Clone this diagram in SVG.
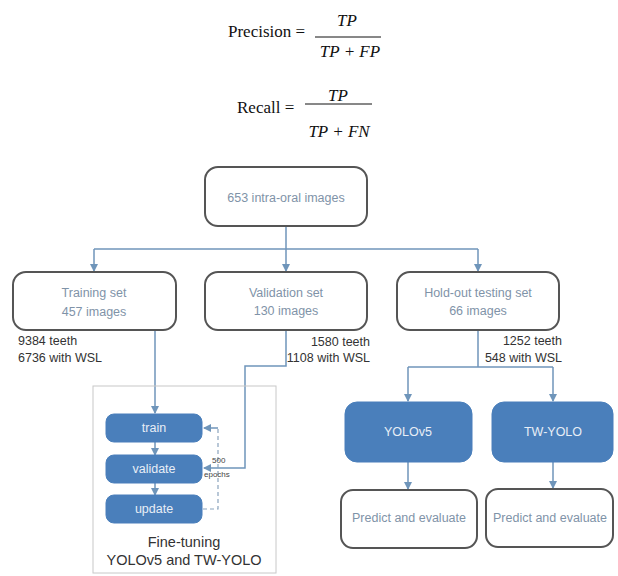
<svg xmlns="http://www.w3.org/2000/svg" width="618" height="576" viewBox="0 0 618 576">
<style>
.math{font-family:"Liberation Serif","Times New Roman",serif;font-size:17px;fill:#111}
.mi{font-style:italic}
.box{fill:#fff;stroke:#555;stroke-width:2}
.blue{fill:#4a7fbb;stroke:#4a7fbb;stroke-width:1}
.lbl{font-family:"Liberation Sans",Arial,sans-serif;font-size:12.5px;fill:#7f93a8;text-anchor:middle}
.wlbl{font-family:"Liberation Sans",Arial,sans-serif;font-size:12.5px;fill:#e8eef6;text-anchor:middle}
.note{font-family:"Liberation Sans",Arial,sans-serif;font-size:12.5px;fill:#333}
.big{font-family:"Liberation Sans",Arial,sans-serif;font-size:14.5px;fill:#333;text-anchor:middle}
.small{font-family:"Liberation Sans",Arial,sans-serif;font-size:8px;fill:#444}
.con{fill:none;stroke:#6f95ba;stroke-width:1.5}
.dash{fill:none;stroke:#8aa3bd;stroke-width:1.2;stroke-dasharray:4 3}
</style>
<defs>
<marker id="ah" markerWidth="8" markerHeight="8" refX="7" refY="4" orient="auto" markerUnits="userSpaceOnUse">
<path d="M0,0 L8,4 L0,8 z" fill="#6f95ba"/>
</marker>
</defs>
<rect width="618" height="576" fill="#fff"/>

<g id="formulas">
<text class="math" x="228" y="37">Precision =</text>
<text class="math mi" x="347" y="26" text-anchor="middle">TP</text>
<line x1="315" y1="37" x2="381" y2="37" stroke="#111" stroke-width="1"/>
<text class="math mi" x="350" y="57" text-anchor="middle">TP + FP</text>
<text class="math" x="237" y="113">Recall =</text>
<text class="math mi" x="338" y="101" text-anchor="middle">TP</text>
<line x1="305" y1="104" x2="372" y2="104" stroke="#111" stroke-width="1"/>
<text class="math mi" x="339" y="137" text-anchor="middle">TP + FN</text>
</g>

<g id="connectors">
<path class="con" d="M286,226 V249"/>
<path class="con" d="M94,249 H478"/>
<path class="con" d="M94,249 V271" marker-end="url(#ah)"/>
<path class="con" d="M286,249 V271" marker-end="url(#ah)"/>
<path class="con" d="M478,249 V271" marker-end="url(#ah)"/>
<path class="con" d="M155,330 V413" marker-end="url(#ah)"/>
<path class="con" d="M155,442 V455" marker-end="url(#ah)"/>
<path class="con" d="M155,483 V495" marker-end="url(#ah)"/>
<path class="con" d="M286,330 V366 H245 V468 H204" marker-end="url(#ah)"/>
<path class="dash" d="M203,509 H218 V428"/>
<path class="con" d="M218,428 H204" marker-end="url(#ah)"/>
<path class="con" d="M478,330 V367"/>
<path class="con" d="M408,367 H553"/>
<path class="con" d="M408,367 V401" marker-end="url(#ah)"/>
<path class="con" d="M553,367 V401" marker-end="url(#ah)"/>
<path class="con" d="M408,462 V489" marker-end="url(#ah)"/>
<path class="con" d="M553,462 V488" marker-end="url(#ah)"/>
</g>

<g id="fine-tuning">
<rect x="93" y="386" width="183" height="187" fill="none" stroke="#c8c8c8" stroke-width="1"/>
<text class="big" x="184" y="547">Fine-tuning</text>
<text class="big" x="184" y="565">YOLOv5 and TW-YOLO</text>
</g>

<g id="n-all">
<rect class="box" x="205" y="167" width="162" height="59" rx="13"/>
<text class="lbl" x="286" y="202">653 intra-oral images</text>
</g>
<g id="n-train-set">
<rect class="box" x="13" y="272" width="163" height="58" rx="13"/>
<text class="lbl" x="94" y="297">Training set</text>
<text class="lbl" x="94" y="316">457 images</text>
</g>
<g id="n-val-set">
<rect class="box" x="205" y="272" width="162" height="58" rx="13"/>
<text class="lbl" x="286" y="297">Validation set</text>
<text class="lbl" x="286" y="315">130 images</text>
</g>
<g id="n-test-set">
<rect class="box" x="397" y="272" width="162" height="58" rx="13"/>
<text class="lbl" x="478" y="297">Hold-out testing set</text>
<text class="lbl" x="478" y="315">66 images</text>
</g>

<g id="notes">
<text class="note" x="18" y="345">9384 teeth</text>
<text class="note" x="18" y="362">6736 with WSL</text>
<text class="note" x="370" y="346" text-anchor="end">1580 teeth</text>
<text class="note" x="370" y="362" text-anchor="end">1108 with WSL</text>
<text class="note" x="562" y="345" text-anchor="end">1252 teeth</text>
<text class="note" x="562" y="362" text-anchor="end">548 with WSL</text>
<text class="small" x="212" y="463">500</text>
<text class="small" x="204" y="477">epochs</text>
</g>

<g id="n-train">
<rect class="blue" x="106" y="414" width="96" height="28" rx="8"/>
<text class="wlbl" x="154" y="432">train</text>
</g>
<g id="n-validate">
<rect class="blue" x="106" y="455" width="96" height="28" rx="8"/>
<text class="wlbl" x="154" y="473">validate</text>
</g>
<g id="n-update">
<rect class="blue" x="106" y="495" width="96" height="28" rx="8"/>
<text class="wlbl" x="154" y="513">update</text>
</g>

<g id="n-yolov5">
<rect class="blue" x="345" y="402" width="127" height="60" rx="12"/>
<text class="wlbl" x="408" y="436">YOLOv5</text>
</g>
<g id="n-twyolo">
<rect class="blue" x="492" y="402" width="121" height="60" rx="12"/>
<text class="wlbl" x="553" y="436">TW-YOLO</text>
</g>
<g id="n-pred1">
<rect class="box" x="341" y="490" width="136" height="58" rx="12"/>
<text class="lbl" x="409" y="522">Predict and evaluate</text>
</g>
<g id="n-pred2">
<rect class="box" x="486" y="489" width="127" height="58" rx="12"/>
<text class="lbl" x="550" y="522">Predict and evaluate</text>
</g>
</svg>
